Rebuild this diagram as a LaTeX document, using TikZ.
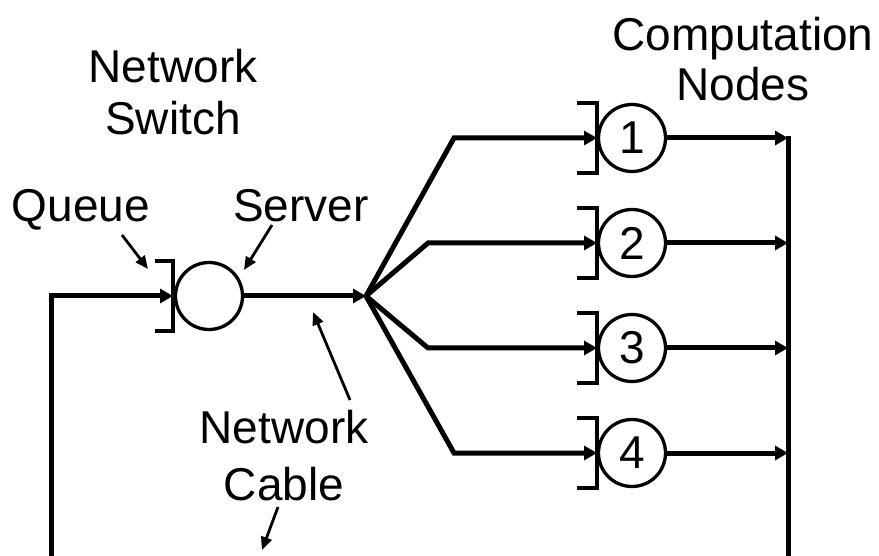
\documentclass[tikz,border=0pt]{standalone}
\usepackage{fontspec}
\setmainfont{Liberation Sans}
\usetikzlibrary{arrows.meta,calc}
\begin{document}
\begin{tikzpicture}[x=1pt,y=-1pt,
  wire/.style={line width=5pt},
  feed/.style={wire,-{Triangle[length=13pt,width=14pt]}},
  station/.style={circle,draw,line width=3.3pt,minimum size=67pt,inner sep=0pt,
    font=\fontsize{46}{52}\selectfont},
  bracket/.style={line width=3.5pt},
  caption/.style={inner sep=0pt,anchor=base,font=\fontsize{46}{52}\selectfont},
  pointer/.style={line width=2.8pt,-{Triangle[length=13pt,width=11pt]}}]
\useasboundingbox (0,0) rectangle (879,556);

% labels
\node[caption] (comp1) at (743,51) {Computation};
\node[caption] (comp2) at (743,101) {Nodes};
\node[caption] (sw1) at (173,83) {Network};
\node[caption] (sw2) at (173,135) {Switch};
\node[caption] (queue) at (81,222) {Queue};
\node[caption] (server) at (301,222) {Server};
\node[caption] (cab1) at (284,443) {Network};
\node[caption] (cab2) at (284,500) {Cable};

% switch: queue bracket and server
\node[station] (srv) at (209,296) {};
\coordinate (q0) at ($(srv)+(-36,0)$);
\draw[bracket] ($(srv)+(-54,-35)$) -| ($(srv)+(-36,35)$) -- ($(srv)+(-54,35)$);
\coordinate (fan) at (366,296);
\draw[feed] (srv) -- (fan);

% return path into the switch queue
\coordinate (ret) at (51,556);
\draw[feed] (ret) |- (q0);

% collecting bus on the right
\coordinate (bustop) at (788,136);
\coordinate (busend) at (788,556);
\draw[wire] (bustop) -- (busend);

% computation nodes
\foreach \i/\y/\cx in {1/138/454, 2/243/428, 3/348/428, 4/453/454} {
  \node[station] (c\i) at (632,\y) {\i};
  \coordinate (q\i) at ($(c\i)+(-35,0)$);
  \draw[bracket] ($(c\i)+(-55,-35)$) -| ($(c\i)+(-35,35)$) -- ($(c\i)+(-55,35)$);
  \coordinate (k\i) at (\cx,\y);
  \coordinate (b\i) at (788,\y);
  \draw[feed] (fan) -- (k\i) -- (q\i);
  \draw[feed] (c\i) -- (b\i);
}

% annotation pointers
\coordinate (qt) at (122,235); \coordinate (qh) at (148,269);
\draw[pointer] (qt) -- (qh);
\coordinate (st) at (272,225); \coordinate (sh) at (244,270);
\draw[pointer] (st) -- (sh);
\coordinate (ct) at (350,400); \coordinate (ch) at (313,312);
\draw[pointer] (ct) -- (ch);
\coordinate (dt) at (278,507); \coordinate (dh) at (262,550);
\draw[pointer] (dt) -- (dh);
\end{tikzpicture}
\end{document}
